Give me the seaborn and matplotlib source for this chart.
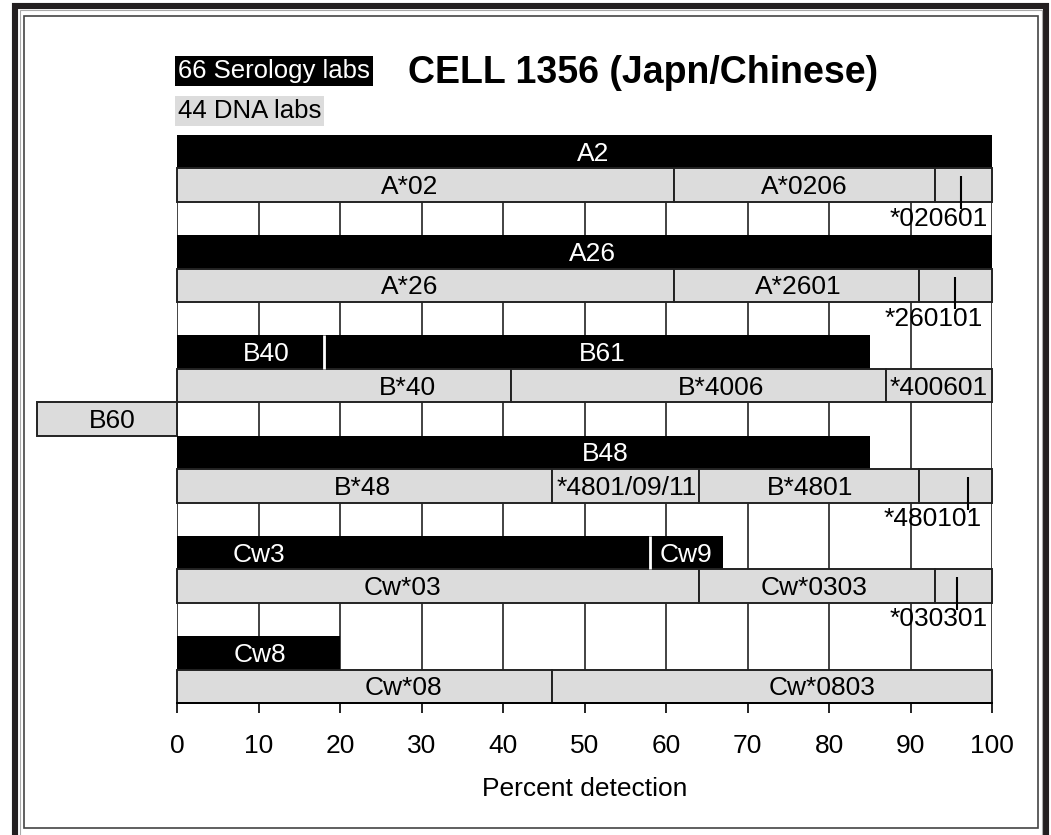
import numpy as np
import matplotlib
matplotlib.use("Agg")
import matplotlib.pyplot as plt
import seaborn as sns
from matplotlib.patches import Rectangle

# data, top row first ("" = empty spacer row)
row_kind = ["sero", "dna", "", "sero", "dna", "", "sero", "dna", "dna",
            "sero", "dna", "", "sero", "dna", "", "sero", "dna"]

seg_widths = [[100], [61, 32, 7], [],
              [100], [61, 30, 9], [],
              [18, 67], [41, 46, 13], [-17.2],
              [85], [46, 18, 27, 9], [],
              [58, 9], [64, 29, 7], [],
              [20], [46, 54]]

seg_labels = [["A2"], ["A*02", "A*0206", ""], [],
              ["A26"], ["A*26", "A*2601", ""], [],
              ["B40", "B61"], ["B*40", "B*4006", "*400601"], ["B60"],
              ["B48"], ["B*48", "*4801/09/11", "B*4801", ""], [],
              ["Cw3", "Cw9"], ["Cw*03", "Cw*0303", ""], [],
              ["Cw8"], ["Cw*08", "Cw*0803"]]

# where each label sits (percent)
label_x = [[51], [28.6, 77, None], [],
           [51], [28.6, 76.2, None], [],
           [11, 52.2], [28.3, 66.8, 93.5], [-7.9],
           [52.5], [22.8, 55.2, 77.7, None], [],
           [10.1, 62.5], [27.7, 78.2, None], [],
           [10.2], [27.8, 79.1]]

# allele notes hanging under some DNA rows
note_rows = [1, 4, 10, 13]
note_tick_x = [96.2, 95.5, 97.1, 95.7]
note_text = ["*020601", "*260101", "*480101", "*030301"]
note_right = [99.5, 98.9, 98.7, 99.5]

ticks = list(range(0, 101, 10))

BLACK, GREY, EDGE = "#000000", "#dcdcdc", "#222222"
W, H = 1051, 835
FS = 19


def px(x):
    return x / W


def py(y):
    return 1 - y / H


sns.set_theme(style="white")
plt.rcParams["font.family"] = ["Liberation Sans", "DejaVu Sans"]
plt.rcParams["text.color"] = "black"

fig = plt.figure(figsize=(W / 100, H / 100), dpi=100)
ax = fig.add_axes([px(177), py(703), px(992) - px(177), py(135) - py(703)])

for r, (kind, widths, labels, lx) in enumerate(zip(row_kind, seg_widths, seg_labels, label_x)):
    if not widths:
        continue
    lefts = np.concatenate([[0], np.cumsum(widths)[:-1]])
    if kind == "sero":
        ax.barh([r] * len(widths), widths, left=lefts, height=1.0,
                color=BLACK, linewidth=0, zorder=2)
        # white separators between serology segments
        if len(widths) > 1:
            ax.vlines(lefts[1:], r - 0.5, r + 0.5, color="white", lw=2, zorder=3)
        tcol = "white"
    else:
        ax.barh([r] * len(widths), widths, left=lefts, height=1.0,
                color=GREY, edgecolor=EDGE, linewidth=1.4, zorder=2, clip_on=False)
        tcol = "black"
    for lab, x in zip(labels, lx):
        if lab and x is not None:
            ax.text(x, r + 0.06, lab, ha="center", va="center", fontsize=FS,
                    color=tcol, zorder=4, clip_on=False)

for r, tx, txt, rx in zip(note_rows, note_tick_x, note_text, note_right):
    ax.plot([tx, tx], [r - 0.26, r + 0.71], color="black", lw=1.5, zorder=5,
            solid_capstyle="butt")
    ax.text(rx, r + 1.0, txt, ha="right", va="center", fontsize=FS,
            color="black", zorder=4)

ax.set_xlim(0, 100)
ax.set_ylim(len(row_kind) - 0.5, -0.5)
ax.set_xticks(ticks)
ax.set_yticks([])
ax.grid(True, axis="x", color=EDGE, lw=1.2)
ax.grid(False, axis="y")
ax.set_axisbelow(True)
sns.despine(ax=ax, left=True)
ax.spines["bottom"].set_color("black")
ax.spines["bottom"].set_linewidth(1.4)
ax.tick_params(axis="x", bottom=True, length=7, width=1.2, color="black",
               pad=15, labelsize=FS, labelcolor="black")
ax.set_xlabel("Percent detection", fontsize=FS, color="black", labelpad=14)

# header
fig.text(px(178), py(71), "66 Serology labs", ha="left", va="center", fontsize=18.5,
         color="white", bbox=dict(boxstyle="square,pad=0.12", facecolor="black", edgecolor="none"))
fig.text(px(178), py(111), "44 DNA labs", ha="left", va="center", fontsize=18.5,
         color="black", bbox=dict(boxstyle="square,pad=0.12", facecolor=GREY, edgecolor="none"))
fig.text(px(643), py(73), "CELL 1356 (Japn/Chinese)", ha="center", va="center",
         fontsize=27, fontweight="bold", color="black")

# page frame
fig.patches.append(Rectangle((px(15), py(900)), px(1046) - px(15), py(6) - py(900),
                             transform=fig.transFigure, fill=False, edgecolor="#231f20",
                             lw=4.4, zorder=0))
fig.patches.append(Rectangle((px(19.5), py(900)), px(1041.5) - px(19.5), py(10) - py(900),
                             transform=fig.transFigure, fill=False, edgecolor="#aaaaaa",
                             lw=0.8, zorder=0))
fig.patches.append(Rectangle((px(24), py(828)), px(1038) - px(24), py(16) - py(828),
                             transform=fig.transFigure, fill=False, edgecolor="#444444",
                             lw=1.2, zorder=0))

fig.savefig("out.png", dpi=100)
